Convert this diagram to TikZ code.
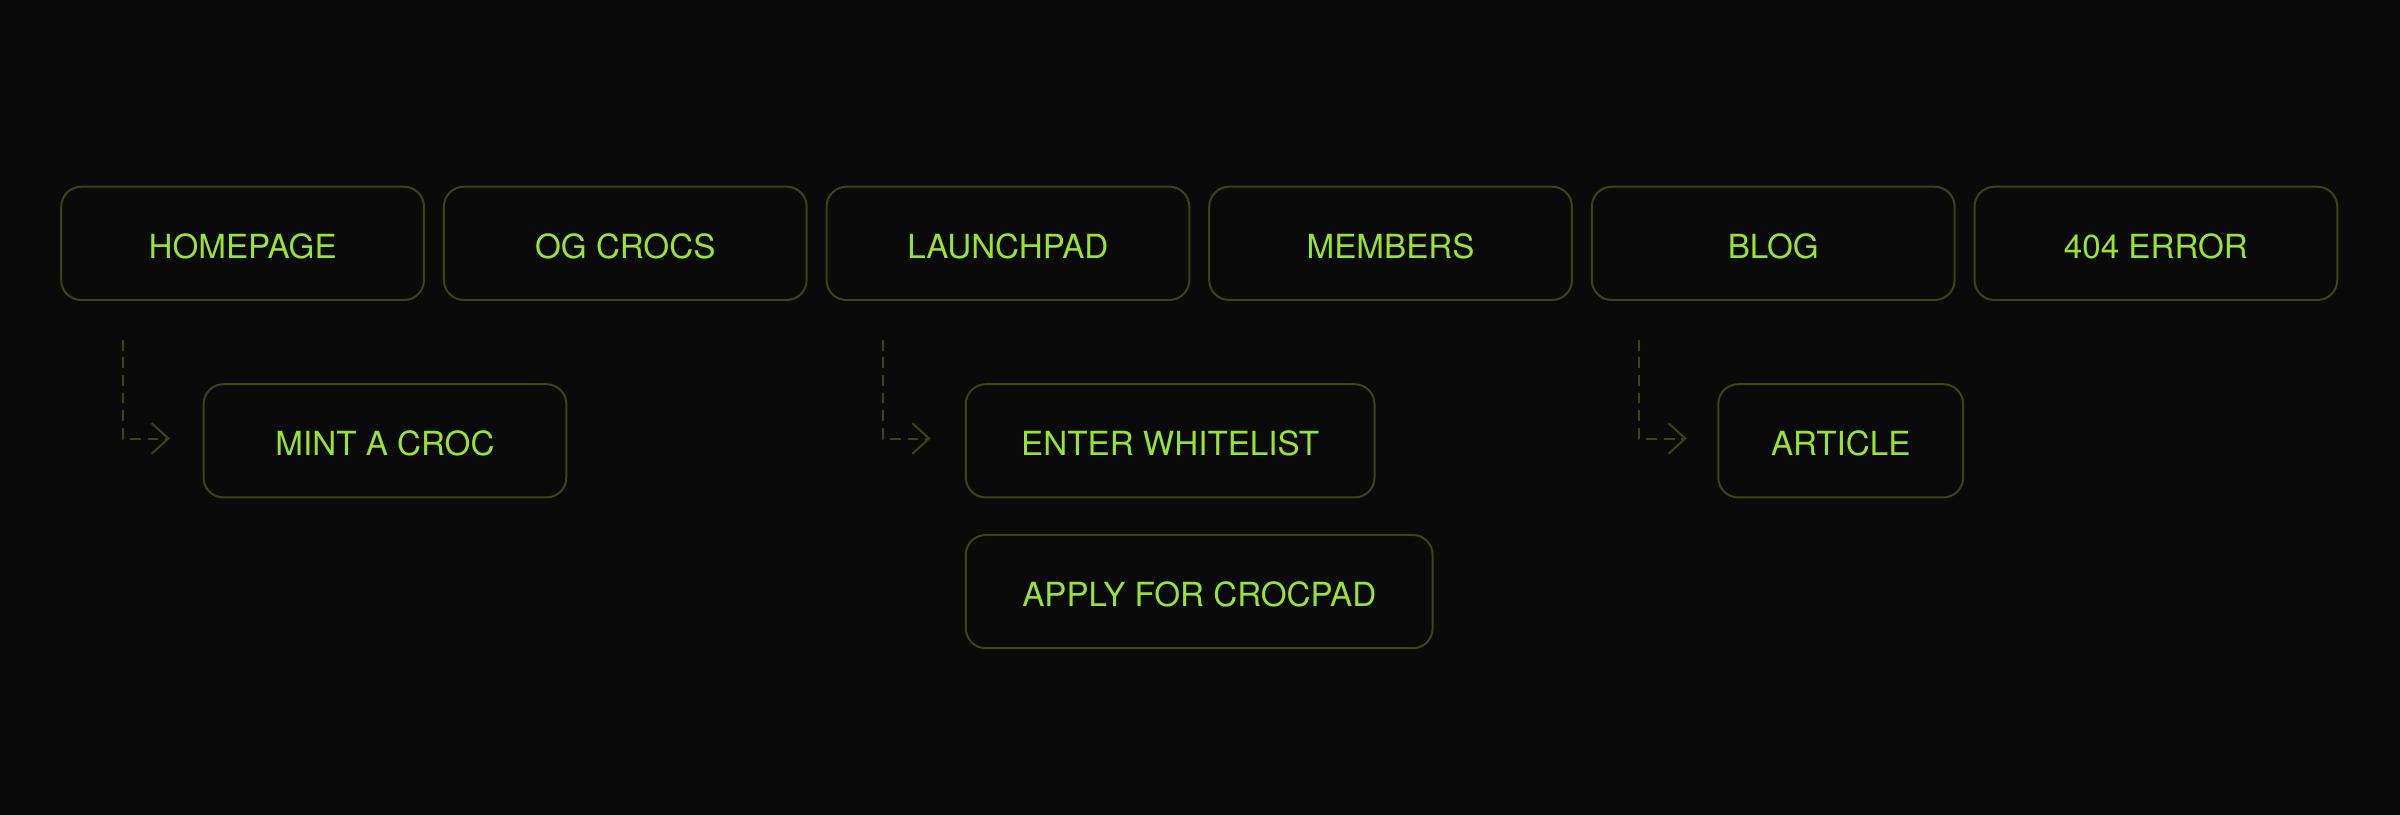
\documentclass[tikz,border=0pt]{standalone}
\usepackage{fontspec}
\setmainfont{TeX Gyre Heros}
\usetikzlibrary{arrows.meta}
\definecolor{bgc}{RGB}{10,10,10}
\definecolor{boxc}{RGB}{60,68,22}
\definecolor{txtc}{RGB}{155,226,50}
\tikzset{
  page/.style={draw=boxc, line width=1.3pt, rounded corners=13pt, rectangle,
    minimum height=74pt, inner sep=0pt, text=txtc,
    font=\fontsize{21.7pt}{24pt}\selectfont, text height=19.6pt, text depth=0pt},
  conn/.style={draw=boxc, line width=1.3pt, dash pattern=on 7pt off 4.5pt,
    -{Straight Barb[length=11pt,width=20pt,line width=1.3pt]}}
}
\begin{document}
\begin{tikzpicture}[x=1pt,y=-1pt]
\fill[bgc] (0,0) rectangle (1568,532.4);
\useasboundingbox (0,0) rectangle (1568,532.4);
% top row
\node[page, minimum width=237pt] (home) at (158.5,159) {HOMEPAGE};
\node[page, minimum width=237pt] (og) at (408.5,159) {OG CROCS};
\node[page, minimum width=237pt] (launch) at (658.5,159) {LAUNCHPAD};
\node[page, minimum width=237pt] (members) at (908.5,159) {MEMBERS};
\node[page, minimum width=237pt] (blog) at (1158.5,159) {BLOG};
\node[page, minimum width=237pt] (err) at (1408.5,159) {404 ERROR};
% sub pages
\node[page, minimum width=237pt] (mint) at (251.5,288) {MINT A CROC};
\node[page, minimum width=267pt] (enter) at (764.5,288) {ENTER WHITELIST};
\node[page, minimum width=160pt] (article) at (1202.6,288) {ARTICLE};
\node[page, minimum width=305pt] (apply) at (783.5,386.5) {APPLY FOR CROCPAD};
% connectors
\coordinate (s1) at (80.5,222);
\coordinate (e1) at (111,286.5);
\coordinate (s2) at (577,222);
\coordinate (e2) at (608,286.5);
\coordinate (s3) at (1071,222);
\coordinate (e3) at (1102,286.5);
\draw[conn] (s1) |- (e1);
\draw[conn] (s2) |- (e2);
\draw[conn] (s3) |- (e3);
\end{tikzpicture}
\end{document}
